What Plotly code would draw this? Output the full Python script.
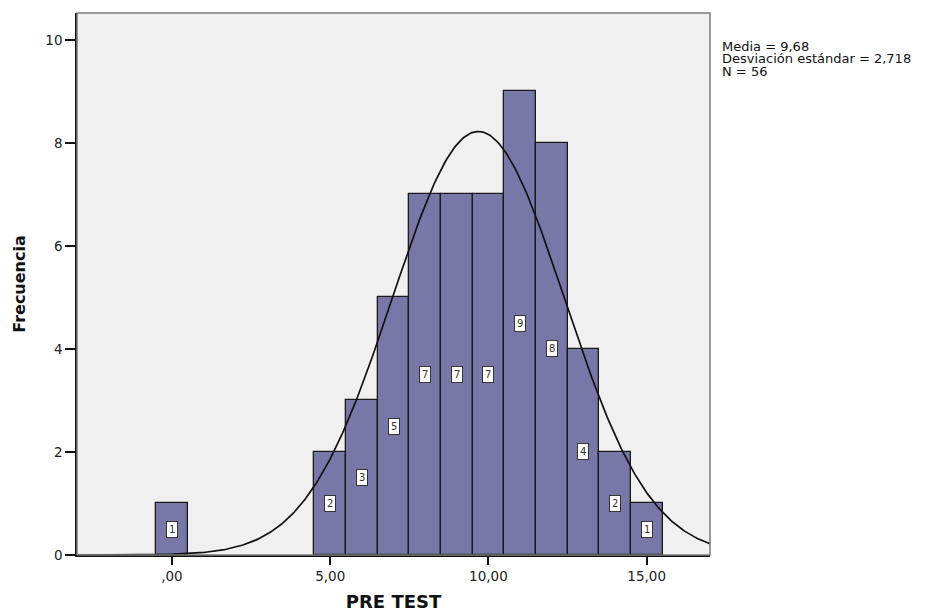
import numpy as np
import plotly.graph_objects as go

# Histogram of PRE TEST scores (bin centres and counts)
scores = [0, 5, 6, 7, 8, 9, 10, 11, 12, 13, 14, 15]
counts = [1, 2, 3, 5, 7, 7, 7, 9, 8, 4, 2, 1]

# Summary statistics shown beside the chart
mean_val = 9.68
sd_val = 2.718
n_val = 56

x_tickvals = [0, 5, 10, 15]
x_ticktext = [",00", "5,00", "10,00", "15,00"]
y_tickvals = [0, 2, 4, 6, 8, 10]

FONT = "DejaVu Sans, Verdana, sans-serif"
BAR_COLOR = "#7878A8"

fig = go.Figure()

fig.add_trace(go.Bar(
    x=scores, y=counts, width=1,
    marker=dict(color=BAR_COLOR, line=dict(color="#1a1a1a", width=1.3)),
    hoverinfo="x+y", showlegend=False,
))

# Fitted normal curve scaled to the frequency axis (bin width 1)
xs = np.linspace(-3, 17, 400)
ys = n_val * np.exp(-0.5 * ((xs - mean_val) / sd_val) ** 2) / (sd_val * np.sqrt(2 * np.pi))
fig.add_trace(go.Scatter(
    x=xs, y=ys, mode="lines",
    line=dict(color="#111111", width=1.7),
    hoverinfo="skip", showlegend=False,
))

# Count labels in boxes at mid-height of each bar
for sx, c in zip(scores, counts):
    fig.add_annotation(
        x=sx, y=c / 2, text=str(c), showarrow=False,
        font=dict(family=FONT, size=10, color="#333333"),
        bgcolor="white", bordercolor="#333333", borderwidth=1, borderpad=2,
    )

# Statistics block
stats_lines = [
    f"Media = {mean_val:.2f}".replace(".", ","),
    f"Desviación estándar = {sd_val:.3f}".replace(".", ","),
    f"N = {n_val}",
]
for i, line in enumerate(stats_lines):
    fig.add_annotation(
        xref="paper", yref="paper", x=1.0, y=1.0, xanchor="left", yanchor="middle",
        xshift=10, yshift=-33 - 12.5 * i,
        text=line, showarrow=False, align="left",
        font=dict(family=FONT, size=13, color="#111111"),
    )

# Grey frame around the plotting area
fig.add_shape(type="rect", xref="paper", yref="paper", x0=0, y0=0, x1=1, y1=1,
              line=dict(color="#7a7a7a", width=1.5), layer="above")

fig.update_layout(
    width=936, height=615,
    margin=dict(l=77, r=226, t=13, b=60),
    paper_bgcolor="white", plot_bgcolor="#F0F0F0",
    bargap=0,
    font=dict(family=FONT, size=13, color="#111111"),
)

fig.update_xaxes(
    range=[-3, 17], tickvals=x_tickvals, ticktext=x_ticktext,
    ticks="outside", ticklen=8, tickwidth=1.5, tickcolor="#111111",
    showline=True, linecolor="#111111", linewidth=1.5,
    showgrid=False, zeroline=False, automargin=False,
    tickfont=dict(family=FONT, size=13.5, color="#222222"),
    title=dict(text="<b>PRE TEST</b>", font=dict(family=FONT, size=18, color="#111111"), standoff=12),
)
fig.update_yaxes(
    range=[0, 10.52], tickvals=y_tickvals,
    ticks="outside", ticklen=10, tickwidth=1.5, tickcolor="#111111",
    showline=True, linecolor="#111111", linewidth=1.5,
    showgrid=False, zeroline=False, automargin=False,
    tickfont=dict(family=FONT, size=13.5, color="#222222"),
    title=dict(text="<b>Frecuencia</b>", font=dict(family=FONT, size=16, color="#111111"), standoff=16),
)

fig.write_html("out.html")
